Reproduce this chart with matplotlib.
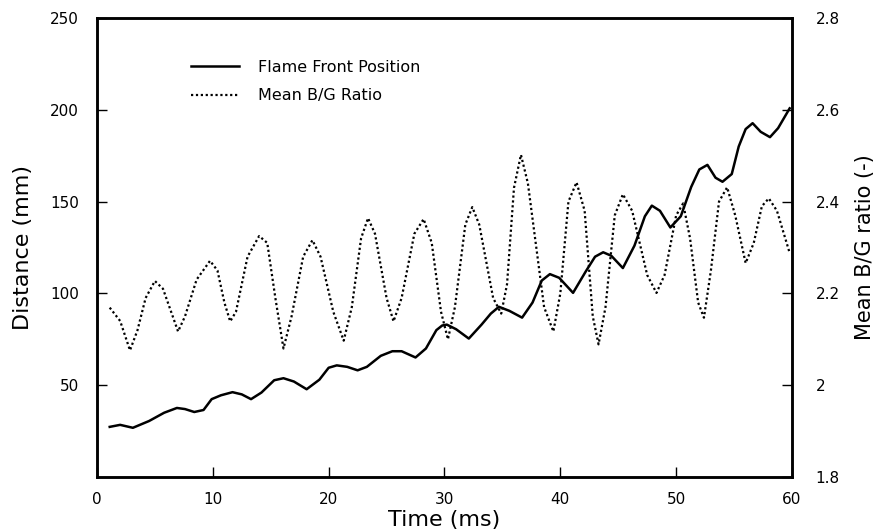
#Flame front position and mean B/G ratio vs time
import matplotlib.pyplot as plt
from matplotlib.ticker import FuncFormatter

plt.rcParams['font.family'] = ['DejaVu Sans']

#Flame front position (mm)
t_front = [1.1, 2.0, 3.1, 4.5, 5.8, 6.9, 7.6, 8.4, 9.2, 9.9, 10.7, 11.7, 12.5, 13.3, 14.2,
           15.3, 16.1, 17.0, 18.1, 19.2, 20.0, 20.7, 21.6, 22.5, 23.3, 24.5, 25.5, 26.3,
           27.5, 28.4, 29.3, 29.8, 30.2, 31.0, 32.1, 33.2, 34.0, 34.7, 35.6, 36.7, 37.6, 38.4,
           39.1, 39.9, 41.1, 42.2, 43.0, 43.7, 44.4, 45.4, 46.4, 47.3, 47.9, 48.6, 49.5,
           50.4, 51.3, 52.0, 52.7, 53.4, 54.0, 54.8, 55.4, 56.0, 56.6, 57.3, 58.1, 58.8, 59.8]
front = [27.3, 28.4, 26.8, 30.5, 35.0, 37.6, 37.0, 35.4, 36.5, 42.4, 44.5, 46.2, 45.0, 42.4, 46.0,
         52.7, 53.8, 52.0, 47.8, 53.0, 59.5, 60.8, 60.0, 58.1, 60.0, 66.0, 68.5, 68.5,
         65.1, 70.0, 80.0, 82.5, 83.0, 80.5, 75.4, 83.0, 89.0, 92.7, 90.5, 86.8, 95.0, 107.0,
         110.5, 108.5, 100.3, 112.0, 120.0, 122.4, 120.5, 113.8, 126.0, 142.0, 147.8, 145.0, 135.9,
         142.0, 158.0, 167.5, 170.0, 163.0, 160.8, 165.0, 180.0, 189.5, 192.7, 188.0, 185.1, 190.0, 200.8]

#Mean B/G ratio
t_ratio = [1.1, 2.0, 2.85, 3.5, 4.2, 5.0, 5.7, 6.4, 7.0, 7.6, 8.6, 9.76, 10.4, 11.0, 11.5,
           12.0, 13.0, 14.0, 14.7, 15.4, 16.1, 16.8, 17.8, 18.6, 19.3, 20.4, 21.3, 22.0,
           22.8, 23.4, 24.0, 25.0, 25.6, 26.3, 27.4, 28.2, 28.9, 29.7, 30.3, 30.9, 31.8,
           32.4, 33.0, 34.2, 34.9, 35.4, 36.0, 36.6, 37.2, 38.6, 39.4, 40.0, 40.7, 41.4,
           42.1, 42.8, 43.3, 43.9, 44.7, 45.4, 46.2, 47.5, 48.3, 49.0, 50.0, 50.6, 51.2,
           51.9, 52.4, 53.0, 53.7, 54.4, 55.1, 56.0, 56.7, 57.4, 58.0, 58.7, 59.8]
ratio = [2.169, 2.14, 2.076, 2.12, 2.19, 2.227, 2.21, 2.16, 2.117, 2.15, 2.23, 2.271, 2.25, 2.18, 2.139,
         2.16, 2.28, 2.325, 2.31, 2.19, 2.080, 2.15, 2.28, 2.316, 2.28, 2.16, 2.097, 2.17,
         2.32, 2.364, 2.33, 2.19, 2.139, 2.19, 2.33, 2.362, 2.31, 2.16, 2.100, 2.17, 2.35,
         2.388, 2.35, 2.19, 2.156, 2.22, 2.43, 2.502, 2.44, 2.17, 2.117, 2.20, 2.40, 2.442,
         2.38, 2.15, 2.089, 2.17, 2.37, 2.416, 2.38, 2.24, 2.201, 2.24, 2.37, 2.396, 2.32,
         2.18, 2.147, 2.25, 2.40, 2.431, 2.37, 2.266, 2.31, 2.39, 2.407, 2.38, 2.288]

x_ticks = [0, 10, 20, 30, 40, 50, 60]
y_ticks = [50, 100, 150, 200, 250]
r_ticks = [1.8, 2.0, 2.2, 2.4, 2.6, 2.8]

fig = plt.figure(figsize=(8.76, 5.31), dpi=100)
ax = fig.add_axes([0.1107, 0.1017, 0.7934, 0.8644])
ax2 = ax.twinx()

#Plot
l1, = ax.plot(t_front, front, color='black', linewidth=1.8, label='Flame Front Position')
l2, = ax2.plot(t_ratio, ratio, color='black', linewidth=1.6, linestyle=(0, (1, 1.2)),
               label='Mean B/G Ratio')

ax.set_xlim(0, 60)
ax.set_ylim(0, 250)
ax2.set_ylim(1.8, 2.8)
ax.set_xticks(x_ticks)
ax.set_yticks(y_ticks)
ax2.set_yticks(r_ticks)
ax2.yaxis.set_major_formatter(FuncFormatter(lambda v, p: ('%g' % round(v, 2))))

for a in (ax, ax2):
    for s in a.spines.values():
        s.set_linewidth(1.8)
ax.tick_params(axis='both', direction='in', length=7, width=1, labelsize=11)
ax.tick_params(axis='y', pad=13)
ax.tick_params(axis='x', pad=11)
ax2.tick_params(axis='y', direction='in', length=7, width=1, labelsize=11, pad=17)

ax.set_xlabel('Time (ms)', fontsize=16, labelpad=2)
ax.set_ylabel('Distance (mm)', fontsize=16, labelpad=12)
ax2.set_ylabel('Mean B/G ratio (-)', fontsize=15, labelpad=11)

ax.legend(handles=[l1, l2], loc='upper left', bbox_to_anchor=(0.115, 0.94), frameon=False,
          fontsize=11.5, handlelength=3.0, handletextpad=1.2, labelspacing=0.85)

fig.savefig('out.png', dpi=100)
